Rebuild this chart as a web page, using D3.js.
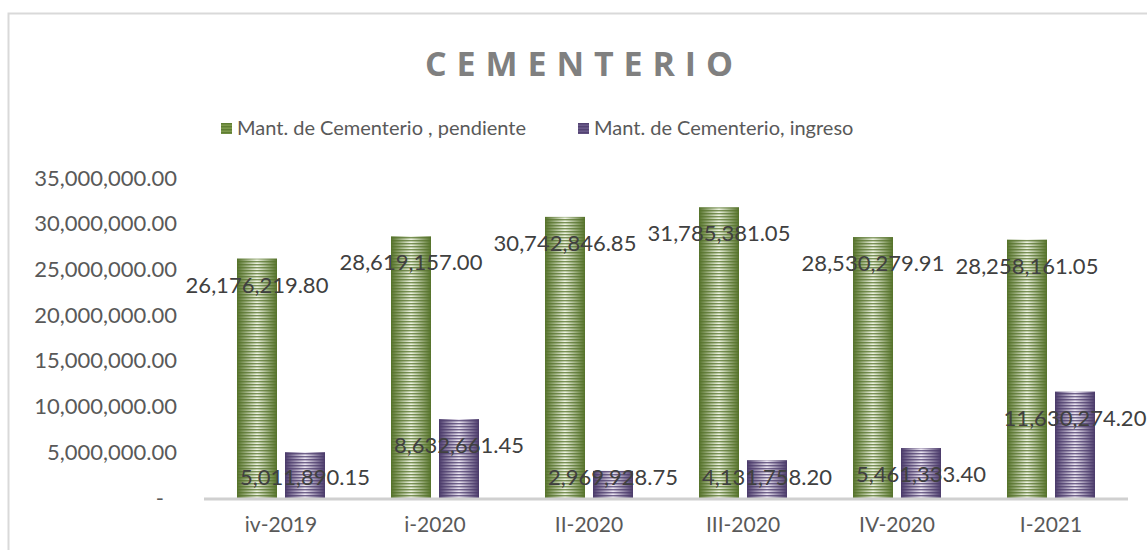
<!DOCTYPE html>
<html>
<head>
<meta charset="utf-8">
<script src="https://cdn.jsdelivr.net/npm/d3@7"></script>
<style>
  body { margin: 0; background: #fff; }
  text { font-family: Lato, "Open Sans", sans-serif; fill: #595959; }
</style>
</head>
<body>
<svg width="1147" height="550"></svg>
<script>
// data
var categories = ['iv-2019', 'i-2020', 'II-2020', 'III-2020', 'IV-2020', 'I-2021'];
var seriesNames = ['Mant. de Cementerio , pendiente', 'Mant. de Cementerio, ingreso'];
var pendiente = [26176219.80, 28619157.00, 30742846.85, 31785381.05, 28530279.91, 28258161.05];
var ingreso = [5011890.15, 8632661.45, 2969928.75, 4131758.20, 5461333.40, 11630274.20];
var yTicks = [0, 5000000, 10000000, 15000000, 20000000, 25000000, 30000000, 35000000];

var svg = d3.select('svg'),
    width = +svg.attr('width'),
    height = +svg.attr('height'),
    fmt = d3.format(',.2f');

var colors = [
  { dark: '#55722a', mid: '#7d9a4c', light: '#eef3e2' },
  { dark: '#4a3a6a', mid: '#6a5a8a', light: '#ece6f3' }
];

var defs = svg.append('defs');

// gradient + stripe patterns per series
colors.forEach(function(c, i) {
  var g = defs.append('linearGradient')
              .attr('id', 'grad' + i)
              .attr('x1', 0).attr('x2', 1).attr('y1', 0).attr('y2', 0);
  g.append('stop').attr('offset', '0%').attr('stop-color', c.dark);
  g.append('stop').attr('offset', '50%').attr('stop-color', c.light);
  g.append('stop').attr('offset', '100%').attr('stop-color', c.dark);

  var p = defs.append('pattern')
              .attr('id', 'stripe' + i)
              .attr('patternUnits', 'userSpaceOnUse')
              .attr('width', 8).attr('height', 3);
  p.append('rect')
   .attr('x', 0).attr('y', 0)
   .attr('width', 8).attr('height', 1.4)
   .attr('fill', c.dark)
   .attr('opacity', 0.75);
});

// chart border
svg.append('rect')
   .attr('x', 8.5).attr('y', 13.5)
   .attr('width', 1300).attr('height', 700)
   .attr('fill', 'none')
   .attr('stroke', '#d9d9d9')
   .attr('stroke-width', 2);

// title
svg.append('text')
   .attr('x', 579).attr('y', 76)
   .attr('text-anchor', 'middle')
   .attr('textLength', 308)
   .attr('lengthAdjust', 'spacing')
   .style('font-family', '"Open Sans", sans-serif')
   .style('font-size', '34px')
   .style('font-weight', 'bold')
   .style('fill', '#808080')
   .text('CEMENTERIO');

// legend
var legendX = [221, 578];
var legend = svg.append('g').attr('class', 'legend')
                .selectAll('g')
                .data(seriesNames)
                .enter().append('g')
                .attr('transform', function(d, i) { return 'translate(' + legendX[i] + ',123)'; });
legend.append('rect')
      .attr('width', 11).attr('height', 11)
      .attr('fill', function(d, i) { return colors[i].mid; });
legend.append('rect')
      .attr('width', 11).attr('height', 11)
      .attr('fill', function(d, i) { return 'url(#stripe' + i + ')'; });
legend.append('text')
      .attr('x', 16).attr('y', 12)
      .style('font-size', '20px')
      .text(function(d) { return d; });

// scales
var y = d3.scaleLinear().domain([0, 35000000]).range([498, 178]);
var x0 = d3.scaleBand().domain(categories).range([204, 1128]);
var x1 = d3.scaleBand().domain([0, 1]).range([0, x0.bandwidth()])
           .paddingInner(1 / 6).paddingOuter(0.6875);

// y axis
var yAxis = svg.append('g')
               .attr('transform', 'translate(204,0)')
               .call(d3.axisLeft(y).tickValues(yTicks).tickSize(0).tickPadding(27)
                       .tickFormat(function(d) { return d === 0 ? '-' : fmt(d); }));
yAxis.select('.domain').remove();
yAxis.selectAll('text')
     .style('font-size', '22px')
     .style('font-family', 'Lato, sans-serif')
     .attr('fill', '#595959')
     .attr('dx', function(d) { return d === 0 ? -13 : 0; });

// x axis
var xAxis = svg.append('g')
               .attr('transform', 'translate(0,498)')
               .call(d3.axisBottom(x0).tickSize(0).tickPadding(19));
xAxis.select('.domain').remove();
xAxis.selectAll('text')
     .style('font-size', '21px')
     .style('font-family', 'Lato, sans-serif')
     .attr('fill', '#595959');

// bars
var rows = categories.map(function(c, i) {
  return { cat: c, values: [pendiente[i], ingreso[i]] };
});

var groups = svg.append('g').attr('class', 'bars')
                .selectAll('g')
                .data(rows)
                .enter().append('g')
                .attr('transform', function(d) { return 'translate(' + x0(d.cat) + ',0)'; });

var bars = groups.selectAll('g')
                 .data(function(d) { return d.values.map(function(v, i) { return { s: i, v: v }; }); })
                 .enter().append('g');

bars.append('rect')
    .attr('x', function(d) { return x1(d.s); })
    .attr('y', function(d) { return y(d.v); })
    .attr('width', x1.bandwidth())
    .attr('height', function(d) { return y(0) - y(d.v); })
    .attr('fill', function(d) { return 'url(#grad' + d.s + ')'; });

bars.append('rect')
    .attr('x', function(d) { return x1(d.s); })
    .attr('y', function(d) { return y(d.v); })
    .attr('width', x1.bandwidth())
    .attr('height', function(d) { return y(0) - y(d.v); })
    .attr('fill', function(d) { return 'url(#stripe' + d.s + ')'; });

// axis line
svg.append('line')
   .attr('x1', 204).attr('x2', 1128)
   .attr('y1', 499).attr('y2', 499)
   .attr('stroke', '#d0d0d0')
   .attr('stroke-width', 3);

// data labels, inside end
svg.append('g').attr('class', 'labels')
   .selectAll('g')
   .data(rows)
   .enter().append('g')
   .attr('transform', function(d) { return 'translate(' + x0(d.cat) + ',0)'; })
   .selectAll('text')
   .data(function(d) { return d.values.map(function(v, i) { return { s: i, v: v }; }); })
   .enter().append('text')
   .attr('x', function(d) { return x1(d.s) + x1.bandwidth() / 2; })
   .attr('y', function(d) { return Math.min(y(d.v) + 26, y(0) - 21) + 8; })
   .attr('text-anchor', 'middle')
   .style('font-size', '22px')
   .style('fill', '#404040')
   .text(function(d) { return fmt(d.v); });
</script>
</body>
</html>
